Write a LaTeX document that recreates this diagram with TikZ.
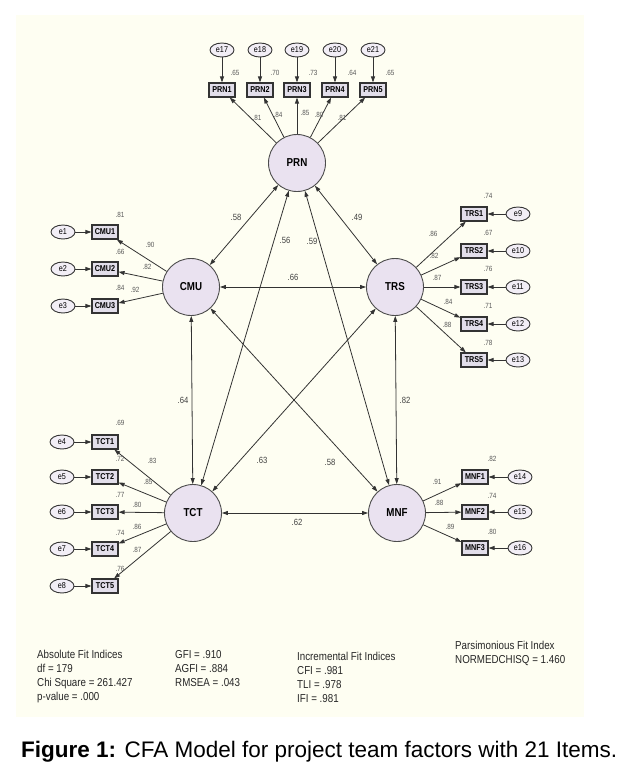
\documentclass[tikz,border=0pt]{standalone}
\usepackage{fontspec}
\setmainfont{Liberation Sans}
\newfontfamily\narrowsf[FakeStretch=0.85]{Liberation Sans}
\usetikzlibrary{arrows.meta,shapes.geometric}

\begin{document}
\begin{tikzpicture}[
  x=1pt, y=-1pt,
  >={Triangle[length=6pt,width=4pt]},
  latent/.style={circle, draw=black!70, line width=0.9pt, fill=latentfill, minimum size=57pt, inner sep=0pt, font=\narrowsf\bfseries\fontsize{11.5}{12}\selectfont},
  item/.style={rectangle, draw=black!80, line width=1.1pt, fill=itemfill, minimum width=26pt, minimum height=14pt, inner sep=0pt, font=\narrowsf\bfseries\fontsize{8.5}{9}\selectfont},
  err/.style={ellipse, draw=black!80, line width=0.9pt, fill=errfill, minimum width=24pt, minimum height=14pt, inner sep=0pt, font=\narrowsf\fontsize{8.5}{9}\selectfont},
  coef/.style={text=black!65, inner sep=0pt, font=\narrowsf\fontsize{7.5}{8}\selectfont},
  corr/.style={text=black!75, inner sep=0pt, font=\narrowsf\fontsize{9}{10}\selectfont},
  link/.style={line width=0.8pt, draw=black!80},
  fitnote/.style={anchor=north west, inner sep=0pt, align=left, text=black!85, font=\narrowsf\fontsize{11.5}{14}\selectfont},
]
\definecolor{cream}{RGB}{254,254,242}
\definecolor{latentfill}{RGB}{234,226,240}
\definecolor{itemfill}{RGB}{226,222,234}
\definecolor{errfill}{RGB}{242,238,246}

\useasboundingbox (0,0) rectangle (633,777);
\fill [cream] (16,15) rectangle (584,717);

% latent factors
\node [latent] (PRN) at (297,163) {PRN};
\node [latent] (CMU) at (191,287) {CMU};
\node [latent] (TRS) at (395,287) {TRS};
\node [latent] (TCT) at (193,513) {TCT};
\node [latent] (MNF) at (397,513) {MNF};

% PRN items
\node [item] (prn1) at (222,90) {PRN1};
\node [item] (prn2) at (260,90) {PRN2};
\node [item] (prn3) at (297,90) {PRN3};
\node [item] (prn4) at (335,90) {PRN4};
\node [item] (prn5) at (373,90) {PRN5};
\node [err] (e17) at (222,50) {e17};
\node [err] (e18) at (260,50) {e18};
\node [err] (e19) at (297,50) {e19};
\node [err] (e20) at (335,50) {e20};
\node [err] (e21) at (373,50) {e21};

% CMU items
\node [item] (cmu1) at (105,232) {CMU1};
\node [item] (cmu2) at (105,269) {CMU2};
\node [item] (cmu3) at (105,306) {CMU3};
\node [err] (e1) at (63,232) {e1};
\node [err] (e2) at (63,269) {e2};
\node [err] (e3) at (63,306) {e3};

% TRS items
\node [item] (trs1) at (474,214) {TRS1};
\node [item] (trs2) at (474,251) {TRS2};
\node [item] (trs3) at (474,287) {TRS3};
\node [item] (trs4) at (474,324) {TRS4};
\node [item] (trs5) at (474,360) {TRS5};
\node [err] (e9) at (518,214) {e9};
\node [err] (e10) at (518,251) {e10};
\node [err] (e11) at (518,287) {e11};
\node [err] (e12) at (518,324) {e12};
\node [err] (e13) at (518,360) {e13};

% TCT items
\node [item] (tct1) at (105,442) {TCT1};
\node [item] (tct2) at (105,477) {TCT2};
\node [item] (tct3) at (105,512) {TCT3};
\node [item] (tct4) at (105,549) {TCT4};
\node [item] (tct5) at (105,586) {TCT5};
\node [err] (e4) at (62,442) {e4};
\node [err] (e5) at (62,477) {e5};
\node [err] (e6) at (62,512) {e6};
\node [err] (e7) at (62,549) {e7};
\node [err] (e8) at (62,586) {e8};

% MNF items
\node [item] (mnf1) at (475,477) {MNF1};
\node [item] (mnf2) at (475,512) {MNF2};
\node [item] (mnf3) at (475,548) {MNF3};
\node [err] (e14) at (520,477) {e14};
\node [err] (e15) at (520,512) {e15};
\node [err] (e16) at (520,548) {e16};

% loadings
\draw [link, ->] (PRN) -- (prn1);
\draw [link, ->] (PRN) -- (prn2);
\draw [link, ->] (PRN) -- (prn3);
\draw [link, ->] (PRN) -- (prn4);
\draw [link, ->] (PRN) -- (prn5);
\draw [link, ->] (CMU) -- (cmu1);
\draw [link, ->] (CMU) -- (cmu2);
\draw [link, ->] (CMU) -- (cmu3);
\draw [link, ->] (TRS) -- (trs1);
\draw [link, ->] (TRS) -- (trs2);
\draw [link, ->] (TRS) -- (trs3);
\draw [link, ->] (TRS) -- (trs4);
\draw [link, ->] (TRS) -- (trs5);
\draw [link, ->] (TCT) -- (tct1);
\draw [link, ->] (TCT) -- (tct2);
\draw [link, ->] (TCT) -- (tct3);
\draw [link, ->] (TCT) -- (tct4);
\draw [link, ->] (TCT) -- (tct5);
\draw [link, ->] (MNF) -- (mnf1);
\draw [link, ->] (MNF) -- (mnf2);
\draw [link, ->] (MNF) -- (mnf3);

% error terms
\draw [link, ->] (e17) -- (prn1);
\draw [link, ->] (e18) -- (prn2);
\draw [link, ->] (e19) -- (prn3);
\draw [link, ->] (e20) -- (prn4);
\draw [link, ->] (e21) -- (prn5);
\draw [link, ->] (e1) -- (cmu1);
\draw [link, ->] (e2) -- (cmu2);
\draw [link, ->] (e3) -- (cmu3);
\draw [link, ->] (e9) -- (trs1);
\draw [link, ->] (e10) -- (trs2);
\draw [link, ->] (e11) -- (trs3);
\draw [link, ->] (e12) -- (trs4);
\draw [link, ->] (e13) -- (trs5);
\draw [link, ->] (e4) -- (tct1);
\draw [link, ->] (e5) -- (tct2);
\draw [link, ->] (e6) -- (tct3);
\draw [link, ->] (e7) -- (tct4);
\draw [link, ->] (e8) -- (tct5);
\draw [link, ->] (e14) -- (mnf1);
\draw [link, ->] (e15) -- (mnf2);
\draw [link, ->] (e16) -- (mnf3);

% covariances
\draw [link, <->] (PRN) -- (CMU);
\draw [link, <->] (PRN) -- (TRS);
\draw [link, <->] (PRN) -- (TCT);
\draw [link, <->] (PRN) -- (MNF);
\draw [link, <->] (CMU) -- (TRS);
\draw [link, <->] (CMU) -- (TCT);
\draw [link, <->] (CMU) -- (MNF);
\draw [link, <->] (TRS) -- (TCT);
\draw [link, <->] (TRS) -- (MNF);
\draw [link, <->] (TCT) -- (MNF);

% PRN values
\node [coef] (r17) at (235,73) {.65};
\node [coef] (r18) at (275,73) {.70};
\node [coef] (r19) at (313,73) {.73};
\node [coef] (r20) at (352,73) {.64};
\node [coef] (r21) at (390,73) {.65};
\node [coef] (l17) at (257,118) {.81};
\node [coef] (l18) at (278,115) {.84};
\node [coef] (l19) at (305,113) {.85};
\node [coef] (l20) at (319,115) {.80};
\node [coef] (l21) at (342,118) {.81};

% CMU values
\node [coef] (r1) at (120,215) {.81};
\node [coef] (r2) at (120,252) {.66};
\node [coef] (r3) at (120,288) {.84};
\node [coef] (l1) at (150,245) {.90};
\node [coef] (l2) at (147,267) {.82};
\node [coef] (l3) at (135,290) {.92};

% TRS values
\node [coef] (r9) at (488,196) {.74};
\node [coef] (r10) at (488,233) {.67};
\node [coef] (r11) at (488,269) {.76};
\node [coef] (r12) at (488,306) {.71};
\node [coef] (r13) at (488,343) {.78};
\node [coef] (l9) at (433,234) {.86};
\node [coef] (l10) at (434,256) {.82};
\node [coef] (l11) at (437,278) {.87};
\node [coef] (l12) at (448,302) {.84};
\node [coef] (l13) at (447,325) {.88};

% TCT values
\node [coef] (r4) at (120,423) {.69};
\node [coef] (r5) at (120,459) {.72};
\node [coef] (r6) at (120,495) {.77};
\node [coef] (r7) at (120,533) {.74};
\node [coef] (r8) at (120,569) {.76};
\node [coef] (l4) at (152,461) {.83};
\node [coef] (l5) at (148,482) {.85};
\node [coef] (l6) at (137,505) {.80};
\node [coef] (l7) at (137,527) {.86};
\node [coef] (l8) at (137,550) {.87};

% MNF values
\node [coef] (r14) at (492,459) {.82};
\node [coef] (r15) at (492,496) {.74};
\node [coef] (r16) at (492,532) {.80};
\node [coef] (l14) at (437,482) {.91};
\node [coef] (l15) at (439,503) {.88};
\node [coef] (l16) at (450,527) {.89};

% correlations
\node [corr] (cPC) at (236,217) {.58};
\node [corr] (cPT) at (357,217) {.49};
\node [corr] (cPTc) at (285,240) {.56};
\node [corr] (cPM) at (312,241) {.59};
\node [corr] (cCT) at (293,277) {.66};
\node [corr] (cCTc) at (183,400) {.64};
\node [corr] (cTM) at (405,400) {.82};
\node [corr] (cTTc) at (262,460) {.63};
\node [corr] (cCM) at (330,462) {.58};
\node [corr] (cTcM) at (297,522) {.62};

% fit indices
\node [fitnote] (absfit) at (37,650) {Absolute Fit Indices\\df = 179\\Chi Square = 261.427\\p-value = .000};
\node [fitnote] (gofit) at (175,650) {GFI = .910\\AGFI = .884\\RMSEA = .043};
\node [fitnote] (incfit) at (297,652) {Incremental Fit Indices\\CFI = .981\\TLI = .978\\IFI = .981};
\node [fitnote] (parfit) at (455,641) {Parsimonious Fit Index\\NORMEDCHISQ = 1.460};

\node [anchor=base west, inner sep=0pt, font=\fontsize{22.5}{24}\selectfont] (caption) at (21,757) {\textbf{Figure 1:} CFA Model for project team factors with 21 Items.};

\end{tikzpicture}
\end{document}
